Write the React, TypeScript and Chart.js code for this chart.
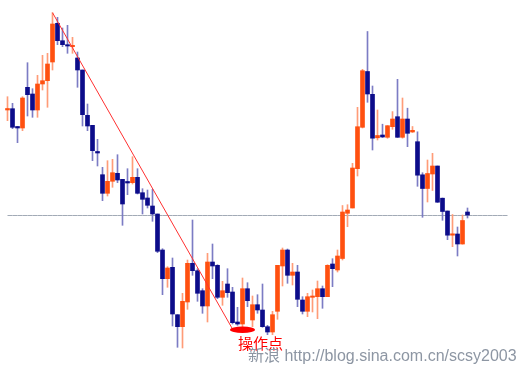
import { useEffect, useRef } from "react";
import { Chart, registerables } from "chart.js";

Chart.register(...registerables);

// Daily candles (price units)
const opens = [
  256, 257.3, 239.5, 238, 278.7, 272, 256, 282, 285.3, 304,
  342.7, 325.3, 321.3, 319.3, 308, 296, 250.7, 240.7, 214.5, 191.3,
  172.7, 184.7, 192.7, 186.7, 184.5, 183.3, 188.7, 173.3, 168, 160,
  152, 116, 87.3, 98.7, 51.3, 39.3, 64, 102.7, 95.3, 75.3,
  60, 104, 100.7, 68.7, 82, 74, 44, 42, 77.3, 46,
  61.3, 56, 39.3, 34, 54.7, 100, 116, 90.7, 94, 66,
  54.7, 68.7, 69.3, 77.3, 69.3, 102, 96, 107.5, 152.7, 158,
  197.3, 238.7, 294.5, 271.7, 228.2, 231, 228.7, 239.3, 249.3, 228.7,
  247, 234, 224.3, 191.2, 177.5, 192, 200, 167.8, 155, 130.8,
  132, 122, 154,
];
const closes = [
  257.5, 238.7, 238, 268, 271.3, 256, 282, 285.3, 302, 342,
  325.3, 321.3, 320, 320.7, 296, 251.3, 240, 215.3, 213, 172.7,
  184.7, 193.3, 186, 162, 183, 188.7, 172.7, 166.7, 160.7, 152,
  114.7, 87.3, 98, 52, 39.3, 64.7, 102.7, 95.3, 72.7, 60,
  104, 100, 68.7, 75.3, 73.3, 43.3, 42, 77.3, 65.3, 61.3,
  56, 39.3, 34, 51.3, 100.7, 116, 90.7, 94, 66.7, 54.7,
  69.3, 70, 77.3, 69.3, 100.7, 97.3, 110, 154, 156, 198,
  239.3, 295.3, 272, 227.8, 230.5, 229, 240.3, 247, 228.7, 247,
  232.7, 235.7, 190.8, 177.5, 192.5, 200, 163.8, 154.5, 130.8, 132.2,
  122, 145.5, 151,
];
const highs = [
  269.3, 262.7, 239.5, 269.3, 303.3, 277.3, 290.7, 310.7, 312.7, 353.3,
  348.7, 338, 340.7, 328.7, 314, 296, 262, 240.7, 226.7, 198.7,
  205.3, 206.7, 211.3, 186.7, 197.3, 209.3, 197.3, 177.3, 176, 176.7,
  152, 117.3, 99.3, 108, 51.3, 72.7, 106, 146, 97.3, 77.3,
  112.7, 122, 101.3, 84.7, 97.3, 78.7, 58.7, 88, 83.3, 70,
  71.3, 82, 40.7, 54.7, 100.7, 118, 117, 102.7, 100.7, 69.3,
  72.7, 76, 85, 80, 101.3, 107.3, 116, 160.5, 161.3, 202.7,
  258.7, 296.7, 334.5, 280, 256, 241.8, 240.5, 254.4, 286.7, 268,
  257.8, 239.5, 234.2, 193.3, 206, 212.7, 200, 168, 155, 151.5,
  139, 151, 158,
];
const lows = [
  245.3, 237.3, 223.3, 235.3, 250, 248.7, 248.7, 276, 258.7, 296,
  321.3, 319.3, 312.7, 312.7, 278.7, 240, 235.3, 205.3, 200, 165.3,
  170, 178.7, 183.3, 140.7, 171.3, 182, 172, 152, 158, 144.7,
  113.3, 71.3, 78.7, 40, 18.7, 18, 56.7, 90.7, 64.7, 52.7,
  44, 87.3, 67.3, 60.7, 68.7, 42, 40.7, 36, 59.3, 39.3,
  52.7, 38.7, 31.3, 31.3, 46.7, 80, 82.7, 81, 59.3, 52,
  49.3, 54, 47.3, 57.7, 69.3, 79.3, 94, 106, 139.3, 158,
  190, 238, 263.7, 216, 226, 228.5, 227.7, 236.7, 228.5, 227.8,
  219.3, 233.5, 179.7, 148.7, 164, 175.5, 163.5, 145.7, 126.3, 119.3,
  110, 121.8, 148,
];

const EXTRA_SLOTS = 8; // empty days after the last candle (reference line continues)
const referenceLevel = 150.5;
const trendFrom = { index: 9, price: 353.3 };
const trendTo = { index: 45, price: 37 };
const markerAt = { index: 47, price: 36.3 };
const markerLabel = "操作点";
const labelAt = { index: 46.1, price: 30 };
const watermark = "新浪 http://blog.sina.com.cn/scsy2003";

const UP = "#ff5010";
const DOWN = "#0c0c8a";
const UP_WICK = "#ff9c78";
const DOWN_WICK = "#7c7cc4";

export default function App() {
  const ref = useRef<HTMLCanvasElement>(null);

  useEffect(() => {
    const total = opens.length + EXTRA_SLOTS;
    const labels = Array.from({ length: total }, (_, i) => String(i + 1));
    const pad = (arr: any[]) => arr.concat(Array(EXTRA_SLOTS).fill(null));
    const isUp = opens.map((o, i) => closes[i] >= o);
    const bodies = pad(opens.map((o, i) => [o, closes[i]]));
    const wicks = pad(lows.map((l, i) => [l, highs[i]]));
    const bodyColors = pad(isUp.map((u) => (u ? UP : DOWN)));
    const wickColors = pad(isUp.map((u) => (u ? UP_WICK : DOWN_WICK)));
    const refData = labels.map(() => referenceLevel);
    const trendData = labels.map((_, i) =>
      i === trendFrom.index ? trendFrom.price : i === trendTo.index ? trendTo.price : null
    );

    const annotate = {
      id: "annotate",
      afterDatasetsDraw(chart: any) {
        const ctx = chart.ctx;
        const xs = chart.scales.x;
        const ys = chart.scales.y;
        ctx.save();
        ctx.fillStyle = "#ff0000";
        ctx.beginPath();
        ctx.ellipse(
          xs.getPixelForValue(markerAt.index),
          ys.getPixelForValue(markerAt.price),
          12.5,
          3.2,
          0,
          0,
          Math.PI * 2
        );
        ctx.fill();
        ctx.font = "15px 'Noto Sans CJK SC'";
        ctx.textBaseline = "top";
        ctx.textAlign = "left";
        ctx.fillText(markerLabel, xs.getPixelForValue(labelAt.index), ys.getPixelForValue(labelAt.price));
        ctx.restore();
      },
      afterDraw(chart: any) {
        const ctx = chart.ctx;
        ctx.save();
        ctx.font = "16px 'Liberation Sans', 'Noto Sans CJK SC'";
        ctx.textBaseline = "alphabetic";
        ctx.textAlign = "left";
        ctx.fillStyle = "#8d96a3";
        ctx.fillText(watermark, 248, 361);
        ctx.restore();
      },
    };

    const chart = new Chart(ref.current as HTMLCanvasElement, {
      type: "bar",
      data: {
        labels,
        datasets: [
          {
            type: "line",
            data: trendData,
            borderColor: "#ff3030",
            borderWidth: 1,
            pointRadius: 0,
            spanGaps: true,
            order: 0,
          } as any,
          {
            type: "bar",
            data: bodies,
            backgroundColor: bodyColors,
            borderWidth: 0,
            barThickness: 4,
            grouped: false,
            order: 1,
          } as any,
          {
            type: "bar",
            data: wicks,
            backgroundColor: wickColors,
            borderWidth: 0,
            barThickness: 1,
            grouped: false,
            order: 2,
          } as any,
          {
            type: "line",
            data: refData,
            borderColor: "#a2aab6",
            borderWidth: 1,
            pointRadius: 0,
            order: 3,
          } as any,
        ],
      },
      options: {
        responsive: false,
        animation: false,
        devicePixelRatio: 1,
        layout: { padding: { left: 5, right: 19, top: 0, bottom: 0 } },
        scales: {
          x: { display: false, offset: true },
          y: { display: false, min: 0, max: 366 },
        },
        plugins: {
          legend: { display: false },
          tooltip: { enabled: false },
        },
      },
      plugins: [annotate],
    });
    return () => chart.destroy();
  }, []);

  return (
    <div style={{ position: "fixed", left: 0, top: 0, width: 529, height: 366, background: "#fff" }}>
      <canvas ref={ref} width={529} height={366} style={{ display: "block" }} />
    </div>
  );
}
